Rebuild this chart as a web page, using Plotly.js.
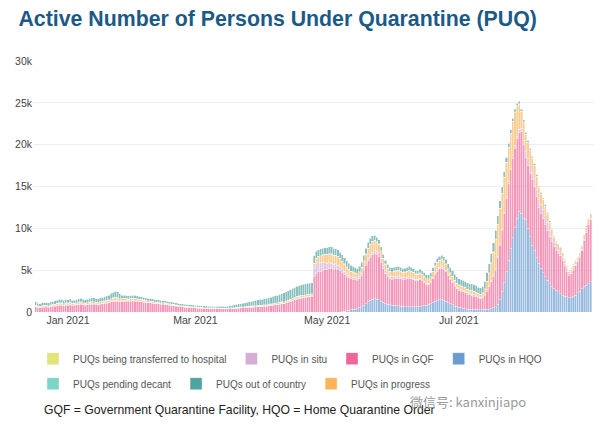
<!DOCTYPE html>
<html>
<head>
<meta charset="utf-8">
<script src="https://cdn.plot.ly/plotly-3.0.1.min.js"></script>
<style>html,body{margin:0;padding:0;background:#fff;}#chart{width:601px;height:430px;}</style>
</head>
<body>
<div id="chart"></div>
<script>
// Daily categories: 2020-12-17 .. 2021-08-31 (258 days)
const firstDay = [2020, 11, 17];
const dayCount = 258;
const dates = [];
for (let k = 0; k < dayCount; k++) {
  dates.push(new Date(Date.UTC(firstDay[0], firstDay[1], firstDay[2] + k)).toISOString().slice(0, 10));
}

const seriesNames = ['PUQs being transferred to hospital', 'PUQs in situ', 'PUQs in GQF', 'PUQs in HQO',
                     'PUQs pending decant', 'PUQs out of country', 'PUQs in progress'];

// PUQs in HQO (one line per month: Dec(15) Jan(31) Feb(28) Mar(31) Apr(30) May(31) Jun(30) Jul(31) Aug(31))
const hqo = [
  0,0,0,0,0, 0,0,0,0,0, 0,0,0,0,0,
  0,0,0,0,0, 0,0,0,0,0, 0,0,0,0,0, 0,0,0,0,0, 0,0,0,0,0, 0,0,0,0,0, 0,
  0,0,0,0,0, 0,0,0,0,0, 0,0,0,0,0, 0,0,0,0,0, 0,0,0,0,0, 0,0,0,
  0,0,0,0,0, 0,0,0,0,0, 0,0,0,0,0, 0,0,0,0,0, 0,0,0,0,0, 0,0,0,0,0, 0,
  0,0,0,0,0, 0,0,0,0,0, 0,0,0,0,0, 0,0,0,0,0, 0,0,0,0,0, 0,0,0,0,0,
  0,0,0,0,0, 0,0,50,100,150, 200,250,300,350,400, 500,600,800,1000,1200, 1400,1550,1600,1550,1450, 1300,1150,1000,900,850, 800,
  780,750,720,700,680, 650,650,650,650,650, 660,680,700,720,750, 800,900,1000,1150,1300, 1400,1450,1450,1400,1300, 1150,1000,850,700,600,
  550,500,450,400,350, 350,300,300,300,250, 250,250,300,300,350, 400,500,600,900,1500, 2500,3500,4800,6200,7600, 8900,10100,11200,12000,11800, 11200,
  11000,10000,9000,8000,7300, 6500,5800,5200,4700,4200, 3800,3400,3100,2800,2600, 2400,2200,2000,1900,1800, 1700,1700,1800,2000,2300, 2500,2800,3000,3200,3400, 3600
];

// PUQs in GQF
const gqf = [
  620,540,520,560,580, 600,560,620,680,700, 740,780,820,760,800,
  820,860,780,800,840, 880,900,860,820,850, 900,920,940,900,880, 920,960,1000,1050,1100, 1200,1250,1300,1280,1200, 1250,1300,1280,1250,1300, 1320,
  1300,1280,1250,1220,1180, 1150,1100,1080,1050,1000, 980,960,940,920,900, 860,820,780,740,700, 660,620,600,580,560, 540,520,500,
  480,460,450,440,430, 420,410,400,390,380, 380,370,370,360,360, 370,380,400,420,440, 460,480,500,520,540, 560,570,580,600,620, 640,
  660,680,700,720,760, 800,840,880,920,960, 1000,1080,1150,1250,1350, 1450,1550,1600,1650,1700, 1750,1800,1800,1850,4300, 4600,4800,4900,5000,5100,
  5100,5200,5150,5100,5200, 5100,4950,4700,4400,4100, 3900,3700,3600,3500,3400, 3500,3800,4200,4600,4900, 5100,5300,5400,5300,5200, 4600,4000,3600,3300,3100, 3100,
  3200,3250,3300,3250,3200, 3250,3300,3350,3300,3200, 3100,3100,3150,3000,2800, 2500,2400,2500,2800,3200, 3500,3700,3800,3700,3500, 3200,2900,2700,2400,2200,
  2050,2000,1950,1900,1800, 1700,1700,1600,1500,1450, 1350,1450,1700,2200,2650, 3200,3800,4400,5600,6500, 7300,8300,8800,9200,9400, 9500,9500,9500,9500,9800, 8800,
  7500,7500,7600,7800,7700, 7300,6700,6600,6500,6300, 6000,5600,5300,5000,4800, 4600,4500,4200,3600,3100, 2700,2900,3200,3500,3700, 4000,4500,5500,6300,7100, 7400
];

// PUQs in situ
const inSitu = [
  40,30,30,40,40, 50,40,50,60,50, 60,70,60,50,60,
  60,60,50,50,60, 60,70,60,60,60, 70,70,70,60,60, 70,70,80,80,80, 90,90,100,90,80, 80,70,70,70,70, 70,
  70,70,60,60,60, 60,50,50,50,50, 50,50,40,40,40, 40,40,40,40,30, 30,30,30,30,30, 30,30,30,
  30,30,30,30,30, 30,30,30,30,30, 30,30,30,30,30, 30,30,30,30,30, 30,30,30,30,40, 40,40,40,40,40, 40,
  40,40,40,50,50, 50,50,50,60,60, 60,60,60,70,70, 70,70,80,80,80, 80,80,80,90,1000, 1200,1100,1000,900,800,
  750,700,650,600,550, 500,450,400,350,300, 300,250,250,250,250, 250,250,300,300,350, 350,300,300,400,450, 500,450,400,350,300, 300,
  300,250,250,200,200, 200,200,200,200,200, 150,150,150,150,150, 150,150,150,200,200, 200,200,200,200,200, 150,150,150,150,150,
  150,150,150,150,150, 150,150,150,150,150, 150,150,150,150,150, 150,150,150,150,150, 150,150,150,150,200, 250,300,300,350,350, 450,
  700,800,900,900,900, 900,1000,1000,1000,1000, 900,800,600,500,400, 400,400,350,300,250, 200,200,200,200,200, 200,200,200,200,200, 200
];

// PUQs in progress
const inProgress = [
  150,140,130,150,160, 150,140,160,170,180, 200,210,190,180,200,
  180,200,170,160,180, 190,200,180,170,190, 200,210,190,180,200, 220,210,230,240,250, 280,300,320,300,280, 260,250,240,230,250, 240,
  230,220,210,200,190, 180,170,160,150,150, 140,140,130,130,120, 120,110,110,100,100, 100,90,90,90,80, 80,80,80,
  80,70,70,70,60, 60,60,60,60,60, 60,60,60,60,60, 60,70,70,70,80, 80,80,90,90,90, 100,100,100,110,110, 120,
  120,130,130,140,140, 150,150,160,160,170, 170,180,190,200,200, 210,220,220,230,230, 240,240,250,250,500, 600,700,800,900,950,
  1000,1050,1100,1050,1000, 1000,950,900,850,800, 700,650,600,550,500, 550,650,800,1000,1100, 1200,1250,1200,1100,1000, 900,800,700,650,600, 600,
  600,650,700,700,650, 650,700,750,700,650, 600,600,650,600,550, 500,500,550,650,750, 800,800,800,750,700, 650,600,550,500,450,
  450,450,450,450,400, 400,400,400,400,350, 350,400,600,1000,1500, 2100,2700,3500,3800,4200, 4200,4100,4100,4100,4100, 4100,4000,3600,3000,2000, 2200,
  2000,1900,1800,1700,1600, 1500,1400,1300,1200,1100, 1000,900,700,600,500, 500,450,400,350,300, 250,300,350,350,300, 300,350,400,450,400, 400
];

// PUQs out of country
const outOfCountry = [
  380,320,300,310,330, 340,320,350,360,380, 400,420,400,390,410,
  400,420,380,390,410, 430,440,420,400,420, 440,460,450,430,440, 460,480,500,520,560, 620,680,720,700,600, 400,380,360,350,360, 350,
  350,340,330,320,310, 300,300,290,280,280, 270,270,260,260,260, 250,250,250,240,240, 240,230,230,230,220, 220,220,220,
  220,220,210,210,210, 200,200,200,200,200, 200,200,200,210,220, 240,260,290,320,350, 380,410,440,470,500, 530,560,590,620,650, 680,
  700,720,740,760,800, 840,880,920,960,1000, 1040,1080,1120,1150,1180, 1200,1220,1250,1260,1280, 1300,1300,1320,1300,900, 850,800,800,800,800,
  800,800,820,800,780, 780,760,750,740,720, 700,680,650,620,600, 600,620,650,700,700, 700,650,600,550,500, 450,450,450,450,450, 450,
  450,450,450,450,450, 450,450,450,450,450, 450,450,450,450,450, 450,450,450,450,450, 450,450,500,500,550, 600,650,700,750,800,
  750,750,750,750,750, 750,800,800,800,750, 750,800,900,1000,1100, 1100,1100,1100,1000,900, 800,700,600,500,400, 350,300,300,250,250, 250,
  200,200,200,180,180, 180,160,160,150,150, 150,150,140,140,130, 130,130,120,120,110, 100,100,100,100,100, 100,100,100,100,100, 100
];

// PUQs pending decant
const pendingDecant = [
  20,20,15,20,20, 25,20,25,30,25, 30,30,25,25,30,
  30,30,25,25,30, 30,30,25,25,30, 30,30,30,25,25, 30,30,35,35,35, 40,40,40,40,35, 30,30,30,30,30, 30,
  30,30,30,25,25, 25,25,25,25,25, 20,20,20,20,20, 20,20,20,20,20, 20,15,15,15,15, 15,15,15,
  15,15,15,15,15, 15,15,15,15,15, 15,15,15,15,15, 15,15,15,15,15, 15,15,15,15,15, 15,15,15,15,15, 15,
  15,15,15,15,15, 15,15,15,15,15, 15,15,15,15,15, 15,15,15,15,15, 15,15,15,15,40, 40,40,40,40,40,
  40,40,50,50,50, 50,50,40,40,40, 40,40,40,40,40, 40,40,50,50,60, 60,60,60,50,50, 50,40,40,40,40, 40,
  40,40,40,40,40, 40,40,40,40,40, 40,40,40,40,40, 40,40,40,50,50, 50,50,50,50,50, 40,40,40,40,40,
  30,30,30,30,30, 30,30,30,30,30, 30,30,30,30,30, 30,30,30,30,30, 30,30,30,30,60, 60,60,60,60,60, 60,
  60,60,60,50,50, 50,50,50,50,50, 40,40,40,40,40, 40,30,30,30,30, 30,30,30,30,30, 30,30,30,30,30, 30
];

// PUQs being transferred to hospital
const toHospital = [
  10,10,10,10,10, 15,10,15,15,10, 15,15,10,10,15,
  15,15,10,10,15, 15,15,10,10,15, 15,15,15,10,10, 15,15,15,20,20, 20,20,20,20,15, 15,15,15,15,15, 15,
  15,15,15,15,10, 10,10,10,10,10, 10,10,10,10,10, 10,10,10,10,10, 10,10,10,10,10, 10,10,10,
  10,10,10,10,10, 10,10,10,10,10, 10,10,10,10,10, 10,10,10,10,10, 10,10,10,10,10, 10,10,10,10,10, 10,
  10,10,10,10,10, 10,10,10,10,10, 10,10,10,10,10, 10,10,10,10,10, 10,10,10,10,30, 30,30,30,30,30,
  30,30,30,30,30, 25,25,25,25,25, 20,20,20,20,20, 20,20,25,25,30, 30,30,30,30,25, 25,25,20,20,20, 20,
  20,20,20,20,20, 20,20,20,20,20, 20,20,20,20,20, 20,20,20,20,20, 20,20,20,20,20, 20,20,20,20,20,
  20,20,20,20,20, 20,20,20,20,20, 20,20,20,20,20, 20,20,20,20,20, 20,20,20,20,40, 40,40,40,40,40, 40,
  40,40,40,40,40, 40,30,30,30,30, 30,30,30,30,30, 30,20,20,20,20, 20,20,20,20,20, 20,20,20,20,20, 20
];

const colors = {
  hosp: '#E2E37A', situ: '#D3ADD3', gqf: '#EF6797', hqo: '#6A9AD0',
  pend: '#7DD5C6', outc: '#4FA3A0', prog: '#FFB45C'
};

function bar(y, name, color, legend, rank) {
  return {
    type: 'bar', x: dates, y: y, name: name, legend: legend, legendrank: rank,
    marker: { color: color, opacity: 0.68, line: { color: '#ffffff', width: 0.4 } },
    hoverinfo: 'skip'
  };
}

// stacking order bottom -> top
const traces = [
  bar(hqo, seriesNames[3], colors.hqo, 'legend', 4),
  bar(gqf, seriesNames[2], colors.gqf, 'legend', 3),
  bar(inSitu, seriesNames[1], colors.situ, 'legend', 2),
  bar(inProgress, seriesNames[6], colors.prog, 'legend2', 3),
  bar(pendingDecant, seriesNames[4], colors.pend, 'legend2', 1),
  bar(outOfCountry, seriesNames[5], colors.outc, 'legend2', 2),
  bar(toHospital, seriesNames[0], colors.hosp, 'legend', 1)
];

const baseFont = 'Liberation Sans, Arial, sans-serif';
const annotations = [
  { xref: 'paper', yref: 'paper', x: 0.016, y: -0.39, xanchor: 'left', yanchor: 'middle', showarrow: false,
    text: 'GQF = Government Quarantine Facility, HQO = Home Quarantine Order',
    font: { family: baseFont, size: 12.2, color: '#222222' } },
  { xref: 'paper', yref: 'paper', x: 0.67, y: -0.358, xanchor: 'left', yanchor: 'middle', showarrow: false,
    text: '微信号: kanxinjiapo',
    font: { family: 'Noto Sans CJK SC, sans-serif', size: 13, color: '#9a9a9a' } }
];
[hqo, gqf, inSitu, inProgress, pendingDecant, outOfCountry, toHospital].forEach(function (a, i) {
  if (a.length !== dayCount) {
    annotations.push({ xref: 'paper', yref: 'paper', x: 0.5, y: 0.9 - i * 0.08, showarrow: false,
      text: 'LEN ' + i + ': ' + a.length, font: { size: 14, color: 'red' } });
  }
});

const legendBase = {
  orientation: 'h', xanchor: 'left', yanchor: 'top', traceorder: 'normal',
  font: { family: baseFont, size: 10, color: '#555555' }, bgcolor: 'rgba(0,0,0,0)'
};

const layout = {
  width: 601, height: 430,
  margin: { l: 33, r: 8, t: 61, b: 118 },
  paper_bgcolor: '#ffffff', plot_bgcolor: '#ffffff',
  barmode: 'stack', bargap: 0,
  font: { family: baseFont, color: '#444444' },
  title: {
    text: '<b>Active Number of Persons Under Quarantine (PUQ)</b>',
    x: 0.462, xanchor: 'center', xref: 'container', y: 0.958, yanchor: 'middle', yref: 'container',
    font: { family: baseFont, size: 21.3, color: '#1B5A87' }
  },
  xaxis: {
    type: 'date', range: ['2020-12-15 19:00', '2021-09-01 02:00'],
    dtick: 'M2', tick0: '2021-01-01', tickformat: '%b %Y',
    showgrid: false, zeroline: false, showline: false, ticks: '',
    tickfont: { family: baseFont, size: 10.5, color: '#444444' }
  },
  yaxis: {
    range: [0, 30000], dtick: 5000, tickformat: '~s',
    gridcolor: '#EBEEF6', gridwidth: 1, zeroline: false, showline: false, ticks: '',
    tickfont: { family: baseFont, size: 10.5, color: '#444444' }
  },
  legend: Object.assign({}, legendBase, { x: 0.0, y: -0.128 }),
  legend2: Object.assign({}, legendBase, { x: 0.0, y: -0.228 }),
  annotations: annotations,
  showlegend: true
};

Plotly.newPlot('chart', traces, layout, { displayModeBar: false, staticPlot: true });
</script>
</body>
</html>
